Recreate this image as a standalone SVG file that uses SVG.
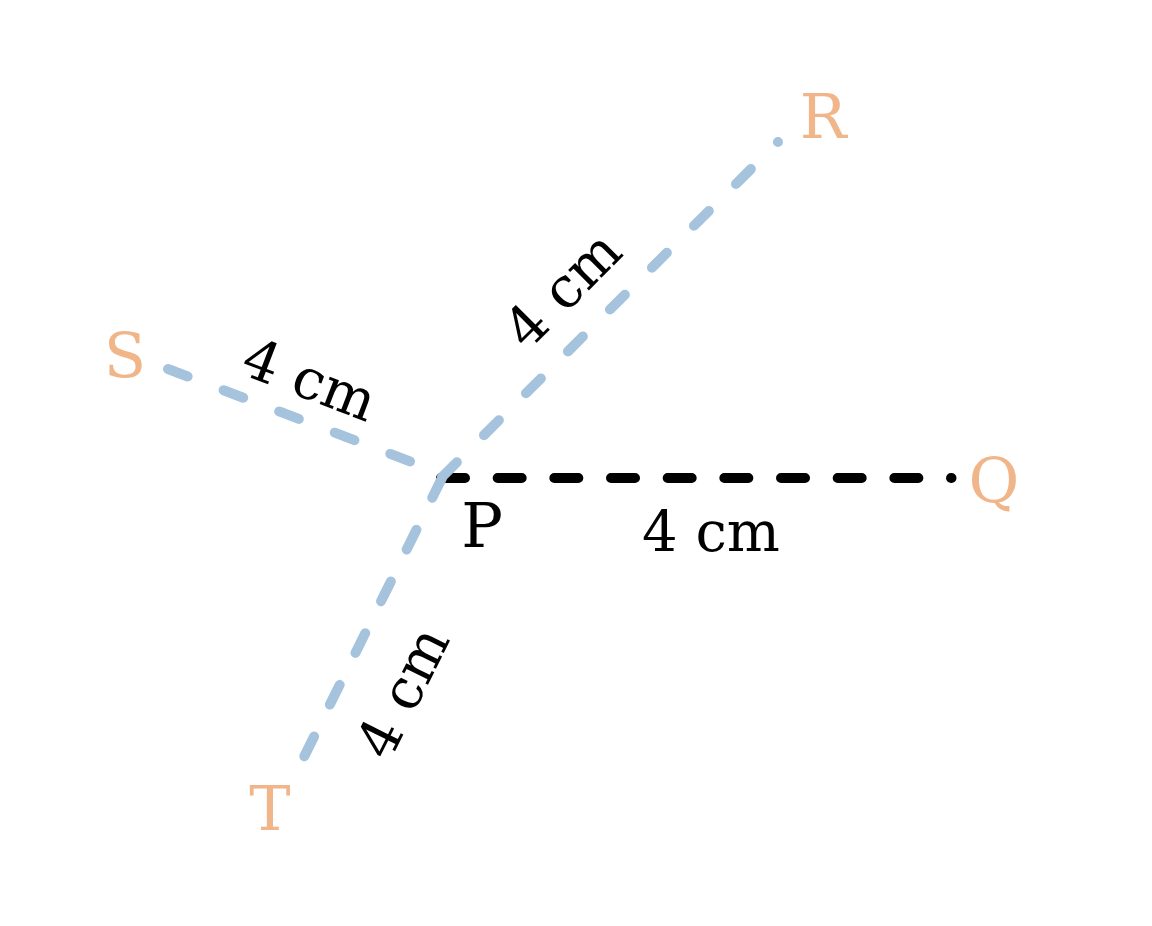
<svg xmlns="http://www.w3.org/2000/svg" width="1152" height="926" viewBox="0 0 1152 926">
<style>
.blue{fill:none;stroke:#A6C3DE;stroke-width:10;stroke-linecap:round}
.black{fill:none;stroke:#000;stroke-width:10;stroke-linecap:round;stroke-dasharray:24 32.67}
.lbl{font-family:"DejaVu Serif","Liberation Serif",serif;font-size:62px;fill:#F0B68A;text-anchor:middle}
.p{font-family:"DejaVu Serif","Liberation Serif",serif;font-size:62px;fill:#000;text-anchor:middle}
.len{font-family:"DejaVu Serif","Liberation Serif",serif;font-size:56px;fill:#000;text-anchor:middle}
</style>
<rect width="1152" height="926" fill="#fff"/>
<g id="connectors">
<line class="black" x1="441" y1="478" x2="951.5" y2="478"/>
<line class="blue" x1="168" y1="369" x2="443" y2="474" stroke-dasharray="21 38.5"/>
<line class="blue" x1="442" y1="477" x2="778" y2="142" stroke-dasharray="21 38.3"/>
<line class="blue" x1="442" y1="478" x2="302" y2="761" stroke-dasharray="22 35.7"/>
</g>
<g id="P"><text class="p" x="482" y="547">P</text></g>
<g id="Q"><text class="lbl" x="994" y="502">Q</text></g>
<g id="R"><text class="lbl" x="823" y="138">R</text></g>
<g id="S"><text class="lbl" x="125" y="377">S</text></g>
<g id="T"><text class="lbl" x="270" y="830">T</text></g>
<g id="labels">
<text class="len" x="711" y="551">4 cm</text>
<text class="len" transform="translate(310,379) rotate(21)" x="0" y="20">4 cm</text>
<text class="len" transform="translate(562,289) rotate(-45)" x="0" y="20">4 cm</text>
<text class="len" transform="translate(402,692) rotate(-63.5)" x="0" y="20">4 cm</text>
</g>
</svg>
